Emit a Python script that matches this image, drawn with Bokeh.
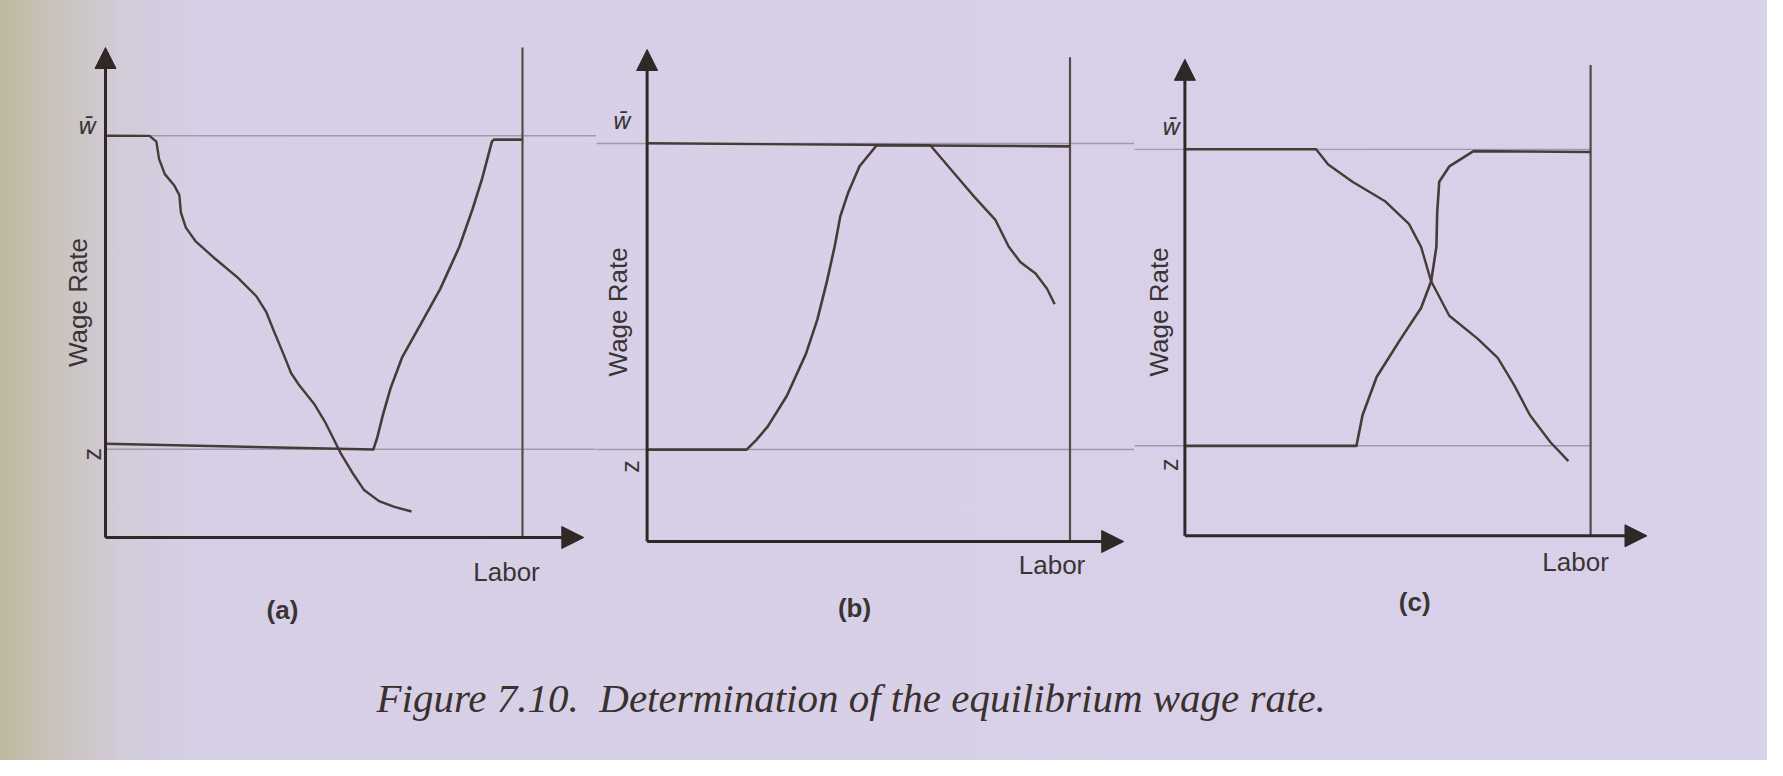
import math
from bokeh.plotting import figure
from bokeh.layouts import row, column
from bokeh.models import Range1d, Arrow, NormalHead
from bokeh.core.properties import value
from bokeh.embed import file_html
from bokeh.resources import INLINE

# ---------------- data ----------------
labor_total = 100          # right-hand vertical line = total labor
wage_axis_top = 100        # top of the wage axis (arrow tip)
tick_labels = ["w\u0304", "z"]
y_title = "Wage Rate"
x_title = "Labor"
panel_names = ["(a)", "(b)", "(c)"]
caption = "Figure 7.10.\u00a0 Determination of the equilibrium wage rate."

w_bar = [82.0, 80.9, 81.1]          # upper wage level per panel
z_level = [18.0, 18.7, 18.9]        # reservation wage per panel
labor_line_top = [100, 98.4, 98.8]  # top of the total-labor line
labor_arrow_end = [114.7, 112.7, 113.9]

# panel (a)
a_demand_x = [0, 10.55, 12.20, 12.84, 14.22, 16.51, 17.71, 18.07, 19.27, 21.56, 26.15,
              31.65, 36.24, 38.53, 40.37, 42.66, 44.50, 46.33, 50.00, 52.75, 54.59,
              56.42, 59.17, 61.93, 65.60, 69.27, 73.39]
a_demand_y = [82.0, 81.97, 80.80, 77.28, 74.16, 71.82, 69.87, 66.35, 63.23, 60.50, 56.99,
              53.08, 49.18, 46.06, 42.15, 37.47, 33.57, 31.23, 27.32, 23.42, 20.30,
              17.17, 13.27, 9.76, 7.42, 6.25, 5.31]
a_supply_x = [0, 64.22, 65.14, 66.51, 68.35, 71.10, 75.69, 80.28, 84.86, 88.07, 90.37,
              92.66, 93.12, 100]
a_supply_y = [19.13, 17.95, 20.30, 24.98, 30.44, 36.69, 43.72, 50.74, 59.33, 67.14, 73.38,
              80.80, 81.19, 81.19]

# panel (b)
b_demand_x = [0, 66.97, 71.95, 77.38, 82.35, 85.52, 88.24, 91.86, 94.57, 96.38]
b_demand_y = [80.93, 80.54, 75.49, 70.04, 65.37, 59.92, 56.81, 54.47, 51.36, 48.25]
b_supply_x = [0, 23.53, 25.79, 28.51, 33.03, 37.56, 40.27, 42.53, 44.34, 45.70, 47.51,
              50.23, 54.30, 100]
b_supply_y = [18.68, 18.68, 20.62, 23.35, 29.57, 38.13, 45.14, 52.92, 59.92, 66.15, 70.82,
              76.26, 80.54, 80.31]

# panel (c)
c_demand_x = [0, 32.34, 35.32, 41.29, 49.25, 55.22, 58.21, 60.70, 65.17, 72.14, 77.11,
              81.09, 85.07, 90.05, 94.53]
c_demand_y = [81.12, 81.12, 77.91, 74.30, 70.28, 65.46, 60.64, 53.41, 46.18, 41.37, 37.35,
              31.73, 25.30, 19.68, 15.66]
c_supply_x = [0, 42.29, 43.78, 47.26, 53.23, 58.21, 60.70, 61.99, 62.19, 62.69, 65.17,
              71.14, 100]
c_supply_y = [18.88, 18.88, 25.30, 33.33, 41.37, 47.79, 53.41, 60.64, 67.87, 74.30, 77.51,
              80.72, 80.56]

demand_x = [a_demand_x, b_demand_x, c_demand_x]
demand_y = [a_demand_y, b_demand_y, c_demand_y]
supply_x = [a_supply_x, b_supply_x, c_supply_x]
supply_y = [a_supply_y, b_supply_y, c_supply_y]

# ---------------- layout / style ----------------
PANEL_H = 642
LAYOUT = [
    dict(width=596, ax=105.0, rx=522.0, xaxis=537.0, top=47.0, ref="axis_to_edge",
         off=dict(w=(-18, -10), z=(-13.5, 5), wage=(-27.5, 10), labor=(-16, 34), name=(-31.5, 72.5))),
    dict(width=538, ax=50.6, rx=473.5, xaxis=541.0, top=49.0, ref="edge_to_edge",
         off=dict(w=(-25, -22), z=(-17, 17), wage=(-28.7, 16.4), labor=(-18, 23), name=(-4, 66))),
    dict(width=633, ax=50.4, rx=456.1, xaxis=535.3, top=58.8, ref="edge_to_labor",
         off=dict(w=(-13.4, -22), z=(-16, 19), wage=(-26.4, 14.4), labor=(-15, 26), name=(27, 66))),
]
AXIS_COLOR = "#2f2826"
CURVE_COLOR = "#473b37"
LABOR_COLOR = "#574a45"
REF_COLOR = "#a199b0"
TEXT_COLOR = "#3a3434"
SANS = value("Liberation Sans")


def make_panel(i):
    L = LAYOUT[i]
    W = L["width"]
    sx = (L["rx"] - L["ax"]) / labor_total
    sy = (L["xaxis"] - L["top"]) / wage_axis_top
    x0 = -L["ax"] / sx
    x1 = (W - L["ax"]) / sx
    y1 = wage_axis_top + L["top"] / sy
    y0 = -(PANEL_H - L["xaxis"]) / sy

    p = figure(width=W, height=PANEL_H, x_range=Range1d(x0, x1), y_range=Range1d(y0, y1),
               x_axis_type=None, y_axis_type=None, toolbar_location=None,
               output_backend="svg", min_border=0, outline_line_color=None,
               background_fill_alpha=0, border_fill_alpha=0)
    p.grid.visible = False

    # thin reference lines at w-bar and z
    if L["ref"] == "axis_to_edge":
        rs, re_ = 0, x1
    elif L["ref"] == "edge_to_edge":
        rs, re_ = x0, x1
    else:
        rs, re_ = x0, labor_total
    p.segment(x0=[rs, rs], y0=[w_bar[i], z_level[i]], x1=[re_, re_], y1=[w_bar[i], z_level[i]],
              line_color=REF_COLOR, line_width=1.4)

    # total labor line
    p.segment(x0=[labor_total], y0=[0], x1=[labor_total], y1=[labor_line_top[i]],
              line_color=LABOR_COLOR, line_width=2.2)

    # curves
    p.line(demand_x[i], demand_y[i], line_color=CURVE_COLOR, line_width=2.4, line_join="round")
    p.line(supply_x[i], supply_y[i], line_color=CURVE_COLOR, line_width=2.6, line_join="round")

    # axes with arrow heads
    p.add_layout(Arrow(x_start=0, y_start=0, x_end=0, y_end=wage_axis_top,
                       line_color=AXIS_COLOR, line_width=3,
                       end=NormalHead(size=21, fill_color=AXIS_COLOR, line_color=AXIS_COLOR)))
    p.add_layout(Arrow(x_start=0, y_start=0, x_end=labor_arrow_end[i], y_end=0,
                       line_color=AXIS_COLOR, line_width=3,
                       end=NormalHead(size=22, fill_color=AXIS_COLOR, line_color=AXIS_COLOR)))

    o = L["off"]
    # w-bar label (upright, italic)
    p.text(x=[0], y=[w_bar[i]], text=[tick_labels[0]], x_offset=o["w"][0], y_offset=o["w"][1],
           text_align="center", text_baseline="middle", text_font=value("DejaVu Sans"),
           text_font_style="italic", text_font_size="23px", text_color=TEXT_COLOR)
    # z label (rotated)
    p.text(x=[0], y=[z_level[i]], text=[tick_labels[1]], x_offset=o["z"][0], y_offset=o["z"][1],
           angle=math.pi / 2, text_align="center", text_baseline="middle", text_font=SANS,
           text_font_size="25px", text_color=TEXT_COLOR)
    # y title
    p.text(x=[0], y=[wage_axis_top / 2], text=[y_title], x_offset=o["wage"][0], y_offset=o["wage"][1],
           angle=math.pi / 2, text_align="center", text_baseline="middle", text_font=SANS,
           text_font_size="26px", text_color=TEXT_COLOR)
    # x title
    p.text(x=[labor_total], y=[0], text=[x_title], x_offset=o["labor"][0], y_offset=o["labor"][1],
           text_align="center", text_baseline="middle", text_font=SANS,
           text_font_size="26px", text_color=TEXT_COLOR)
    # panel name
    p.text(x=[labor_total / 2], y=[0], text=[panel_names[i]], x_offset=o["name"][0], y_offset=o["name"][1],
           text_align="center", text_baseline="middle", text_font=SANS, text_font_style="bold",
           text_font_size="26px", text_color=TEXT_COLOR)
    return p


panels = [make_panel(i) for i in range(3)]

CAP_W, CAP_H = 1767, 118
cap = figure(width=CAP_W, height=CAP_H, x_range=Range1d(0, CAP_W), y_range=Range1d(0, CAP_H),
             x_axis_type=None, y_axis_type=None, toolbar_location=None, output_backend="svg",
             min_border=0, outline_line_color=None, background_fill_alpha=0, border_fill_alpha=0)
cap.grid.visible = False
cap.text(x=[376], y=[CAP_H - 55], text=[caption], text_align="left", text_baseline="alphabetic",
         text_font=value("Liberation Serif"), text_font_style="italic", text_font_size="41px",
         text_color="#3a302e")

layout = column(row(*panels, spacing=0), cap, spacing=0,
                styles={"background": "linear-gradient(90deg, #bdb89e 0px, #c8c2b8 45px, "
                                      "#d2cbd9 120px, #d7cfe6 200px, #d9d1e9 100%)"})

open("out.html", "w").write(file_html(layout, INLINE))
